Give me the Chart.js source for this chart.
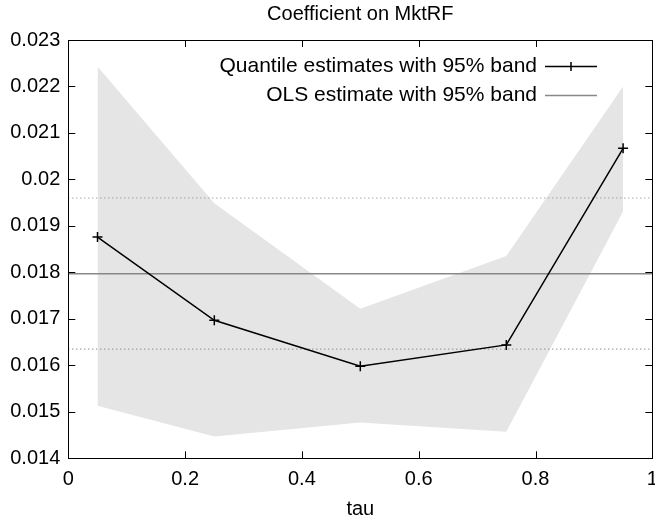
<!DOCTYPE html>
<html>
<head>
<meta charset="utf-8">
<script src="https://cdn.jsdelivr.net/npm/chart.js@4.4.0/dist/chart.umd.min.js"></script>
<style>
  html, body { margin: 0; padding: 0; background: #ffffff; }
  #wrap { width: 655px; height: 521px; }
</style>
</head>
<body>
<div id="wrap"><canvas id="c" width="655" height="521"></canvas></div>
<script>
// ---- data ----
const titleText = "Coefficient on MktRF";
const xTitle = "tau";
const tau = [0.05, 0.25, 0.5, 0.75, 0.95];
const quantEst = [0.01876, 0.01697, 0.01598, 0.01644, 0.02067];
const bandUpper = [0.02243, 0.01949, 0.01722, 0.01835, 0.02200];
const bandLower = [0.01513, 0.01447, 0.01477, 0.01457, 0.01931];
const olsEst = 0.01797;
const olsLower = 0.01635;
const olsUpper = 0.01960;
const xRange = [0, 1];
const yRange = [0.014, 0.023];
const xStep = 0.2;
const yStep = 0.001;
const legendLabels = ["Quantile estimates with 95% band", "OLS estimate with 95% band"];

const FONT = "'Liberation Sans', Arial, Helvetica, sans-serif";
const pts = (xs, ys) => xs.map((x, i) => ({x: x, y: ys[i]}));
const hline = (v) => [{x: xRange[0], y: v}, {x: xRange[1], y: v}];

const framePlugin = {
  id: 'frame',
  afterDatasetsDraw(chart) {
    const {ctx, chartArea: a, scales} = chart;
    const L = 7;
    ctx.save();
    ctx.strokeStyle = '#000';
    ctx.lineWidth = 1;
    ctx.beginPath();
    scales.x.ticks.forEach(t => {
      const px = Math.round(scales.x.getPixelForValue(t.value)) + 0.5;
      ctx.moveTo(px, a.bottom); ctx.lineTo(px, a.bottom - L);
      ctx.moveTo(px, a.top); ctx.lineTo(px, a.top + L);
    });
    scales.y.ticks.forEach(t => {
      const py = Math.round(scales.y.getPixelForValue(t.value)) + 0.5;
      ctx.moveTo(a.left, py); ctx.lineTo(a.left + L, py);
      ctx.moveTo(a.right, py); ctx.lineTo(a.right - L, py);
    });
    ctx.stroke();
    ctx.strokeRect(Math.round(a.left) + 0.5, Math.round(a.top) + 0.5,
                   Math.round(a.right - a.left), Math.round(a.bottom - a.top));
    ctx.restore();
  },
  afterDraw(chart) {
    const {ctx} = chart;
    const ds = chart.data.datasets;
    const textRight = 537, x0 = 545, x1 = 597;
    const rows = [
      {label: legendLabels[0], color: ds[0].borderColor, marker: true, y: 66},
      {label: legendLabels[1], color: ds[1].borderColor, marker: false, y: 95}
    ];
    ctx.save();
    ctx.font = "21px " + FONT;
    ctx.textAlign = 'right';
    ctx.textBaseline = 'middle';
    rows.forEach(r => {
      ctx.fillStyle = '#000';
      ctx.fillText(r.label, textRight, r.y);
      ctx.strokeStyle = r.color;
      ctx.lineWidth = 1.5;
      ctx.beginPath();
      ctx.moveTo(x0, r.y + 0.5); ctx.lineTo(x1, r.y + 0.5);
      if (r.marker) {
        const mx = (x0 + x1) / 2;
        ctx.moveTo(mx, r.y - 4); ctx.lineTo(mx, r.y + 5);
      }
      ctx.stroke();
    });
    ctx.restore();
  }
};

new Chart(document.getElementById('c'), {
  type: 'scatter',
  data: {
    datasets: [
      { label: legendLabels[0], data: pts(tau, quantEst), showLine: true,
        borderColor: '#000000', borderWidth: 1.5, pointStyle: 'cross',
        pointRadius: 5, pointBorderWidth: 1.5, pointBorderColor: '#000000',
        fill: false, order: 0 },
      { label: legendLabels[1], data: hline(olsEst), showLine: true,
        borderColor: '#888888', borderWidth: 1.5, pointRadius: 0, fill: false, order: 1 },
      { label: 'OLS upper', data: hline(olsUpper), showLine: true,
        borderColor: '#808080', borderWidth: 1.2, borderDash: [1, 3], pointRadius: 0, fill: false, order: 2 },
      { label: 'OLS lower', data: hline(olsLower), showLine: true,
        borderColor: '#808080', borderWidth: 1.2, borderDash: [1, 3], pointRadius: 0, fill: false, order: 2 },
      { label: 'band lower', data: pts(tau, bandLower), showLine: true,
        borderColor: 'rgba(0,0,0,0)', borderWidth: 0, pointRadius: 0, fill: false, order: 4 },
      { label: 'band upper', data: pts(tau, bandUpper), showLine: true,
        borderColor: 'rgba(0,0,0,0)', borderWidth: 0, pointRadius: 0,
        backgroundColor: '#e5e5e5', fill: '-1', order: 3 }
    ]
  },
  options: {
    responsive: false,
    animation: false,
    devicePixelRatio: 1,
    layout: { padding: { left: 0, right: 2.7, top: 0, bottom: 0 }, autoPadding: false },
    plugins: {
      legend: { display: false },
      tooltip: { enabled: false },
      title: {
        display: true, text: titleText, fullSize: false, color: '#000',
        font: { family: FONT, size: 20, weight: 'normal' },
        padding: { top: 2, bottom: 14 }
      }
    },
    scales: {
      x: {
        type: 'linear', min: xRange[0], max: xRange[1],
        grid: { display: false, drawTicks: false },
        border: { display: false },
        ticks: { stepSize: xStep, color: '#000', padding: 9, maxRotation: 0,
          font: { family: FONT, size: 20 },
          callback: v => String(Number(v.toFixed(1))) },
        title: { display: true, text: xTitle, color: '#000',
          font: { family: FONT, size: 20 }, padding: { top: 0, bottom: 0 } },
        afterFit: s => { s.height = 62.7; s.paddingLeft = 0; s.paddingRight = 0; }
      },
      y: {
        type: 'linear', min: yRange[0], max: yRange[1],
        grid: { display: false, drawTicks: false },
        border: { display: false },
        ticks: { stepSize: yStep, color: '#000', padding: 8,
          font: { family: FONT, size: 20 },
          callback: v => String(Number(v.toFixed(3))) },
        afterFit: s => { s.width = 68.3; s.paddingTop = 0; s.paddingBottom = 0; }
      }
    }
  },
  plugins: [framePlugin]
});
</script>
</body>
</html>
